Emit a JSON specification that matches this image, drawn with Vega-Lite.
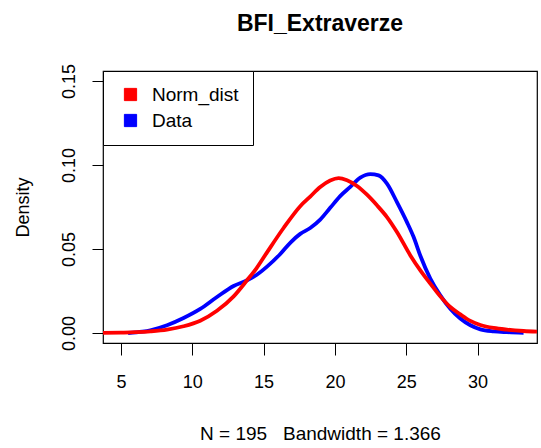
{
  "$schema": "https://vega.github.io/schema/vega-lite/v6.json",
  "width": 434,
  "height": 272,
  "autosize": {"type": "none"},
  "padding": {"left": 103, "top": 71, "right": 4, "bottom": 105},
  "background": "white",
  "title": {
    "text": "BFI_Extraverze",
    "anchor": "middle",
    "frame": "group",
    "font": "Liberation Sans",
    "fontSize": 23,
    "fontWeight": "bold",
    "color": "black",
    "baseline": "alphabetic",
    "offset": 9
  },
  "config": {
    "view": {"stroke": "black", "strokeWidth": 1.2},
    "axis": {
      "labelFont": "Liberation Sans",
      "titleFont": "Liberation Sans",
      "labelColor": "black",
      "titleColor": "black",
      "tickColor": "black",
      "grid": false,
      "domain": false,
      "titleFontWeight": "normal"
    }
  },
  "datasets": {
    "curves": [
      {"x": 5.5, "density": 0.0000, "series": "Data"},
      {"x": 6.5, "density": 0.0008, "series": "Data"},
      {"x": 7.06, "density": 0.0016, "series": "Data"},
      {"x": 8.23, "density": 0.0046, "series": "Data"},
      {"x": 9.39, "density": 0.0089, "series": "Data"},
      {"x": 10.56, "density": 0.0143, "series": "Data"},
      {"x": 11.73, "density": 0.0214, "series": "Data"},
      {"x": 12.9, "density": 0.0280, "series": "Data"},
      {"x": 13.84, "density": 0.0314, "series": "Data"},
      {"x": 14.5, "density": 0.0345, "series": "Data"},
      {"x": 15.24, "density": 0.0395, "series": "Data"},
      {"x": 16.17, "density": 0.0470, "series": "Data"},
      {"x": 16.9, "density": 0.0540, "series": "Data"},
      {"x": 17.57, "density": 0.0590, "series": "Data"},
      {"x": 18.27, "density": 0.0625, "series": "Data"},
      {"x": 18.97, "density": 0.0675, "series": "Data"},
      {"x": 19.67, "density": 0.0745, "series": "Data"},
      {"x": 20.37, "density": 0.0815, "series": "Data"},
      {"x": 21.08, "density": 0.0870, "series": "Data"},
      {"x": 21.78, "density": 0.0925, "series": "Data"},
      {"x": 22.48, "density": 0.0946, "series": "Data"},
      {"x": 23.06, "density": 0.0938, "series": "Data"},
      {"x": 23.65, "density": 0.0889, "series": "Data"},
      {"x": 24.35, "density": 0.0779, "series": "Data"},
      {"x": 25.05, "density": 0.0660, "series": "Data"},
      {"x": 25.52, "density": 0.0571, "series": "Data"},
      {"x": 25.99, "density": 0.0460, "series": "Data"},
      {"x": 26.69, "density": 0.0324, "series": "Data"},
      {"x": 27.39, "density": 0.0224, "series": "Data"},
      {"x": 28.09, "density": 0.0145, "series": "Data"},
      {"x": 28.79, "density": 0.0086, "series": "Data"},
      {"x": 29.5, "density": 0.0046, "series": "Data"},
      {"x": 30.2, "density": 0.0022, "series": "Data"},
      {"x": 31.13, "density": 0.0010, "series": "Data"},
      {"x": 32.06, "density": 0.0005, "series": "Data"},
      {"x": 33.23, "density": 0.0001, "series": "Data"},
      {"x": 3.74, "density": 0.0001, "series": "Norm_dist"},
      {"x": 5.0, "density": 0.0002, "series": "Norm_dist"},
      {"x": 6.0, "density": 0.0005, "series": "Norm_dist"},
      {"x": 7.06, "density": 0.0010, "series": "Norm_dist"},
      {"x": 8.23, "density": 0.0020, "series": "Norm_dist"},
      {"x": 9.39, "density": 0.0040, "series": "Norm_dist"},
      {"x": 10.56, "density": 0.0073, "series": "Norm_dist"},
      {"x": 11.73, "density": 0.0132, "series": "Norm_dist"},
      {"x": 12.9, "density": 0.0218, "series": "Norm_dist"},
      {"x": 13.84, "density": 0.0314, "series": "Norm_dist"},
      {"x": 14.5, "density": 0.0385, "series": "Norm_dist"},
      {"x": 15.24, "density": 0.0480, "series": "Norm_dist"},
      {"x": 16.4, "density": 0.0625, "series": "Norm_dist"},
      {"x": 17.57, "density": 0.0755, "series": "Norm_dist"},
      {"x": 18.27, "density": 0.0812, "series": "Norm_dist"},
      {"x": 18.97, "density": 0.0869, "series": "Norm_dist"},
      {"x": 19.67, "density": 0.0908, "series": "Norm_dist"},
      {"x": 20.26, "density": 0.0922, "series": "Norm_dist"},
      {"x": 20.85, "density": 0.0909, "series": "Norm_dist"},
      {"x": 21.55, "density": 0.0875, "series": "Norm_dist"},
      {"x": 22.25, "density": 0.0823, "series": "Norm_dist"},
      {"x": 22.95, "density": 0.0760, "series": "Norm_dist"},
      {"x": 23.65, "density": 0.0690, "series": "Norm_dist"},
      {"x": 24.35, "density": 0.0601, "series": "Norm_dist"},
      {"x": 25.29, "density": 0.0462, "series": "Norm_dist"},
      {"x": 25.99, "density": 0.0373, "series": "Norm_dist"},
      {"x": 26.69, "density": 0.0294, "series": "Norm_dist"},
      {"x": 27.39, "density": 0.0218, "series": "Norm_dist"},
      {"x": 28.09, "density": 0.0155, "series": "Norm_dist"},
      {"x": 28.79, "density": 0.0111, "series": "Norm_dist"},
      {"x": 29.5, "density": 0.0072, "series": "Norm_dist"},
      {"x": 30.2, "density": 0.0048, "series": "Norm_dist"},
      {"x": 31.13, "density": 0.0030, "series": "Norm_dist"},
      {"x": 32.06, "density": 0.0020, "series": "Norm_dist"},
      {"x": 33.23, "density": 0.0012, "series": "Norm_dist"},
      {"x": 34.17, "density": 0.0008, "series": "Norm_dist"}
    ]
  },
  "layer": [
    {
      "mark": {"type": "rule", "color": "#BEBEBE", "strokeWidth": 1},
      "encoding": {"y": {"datum": 0, "type": "quantitative"}}
    },
    {
      "data": {"name": "curves"},
      "mark": {"type": "line", "strokeWidth": 3.8, "interpolate": "monotone", "clip": true},
      "encoding": {
        "x": {
          "field": "x",
          "type": "quantitative",
          "scale": {"domain": [3.74, 34.17], "nice": false, "zero": false},
          "axis": {
            "values": [5, 10, 15, 20, 25, 30],
            "format": "d",
            "labelFontSize": 18,
            "tickSize": 12,
            "labelBaseline": "middle",
            "labelPadding": 27,
            "title": "N = 195\u00a0\u00a0 Bandwidth = 1.366",
            "titleFontSize": 19,
            "titleBaseline": "alphabetic",
            "titleY": 96,
            "titleX": 217,
            "titleAlign": "center"
          }
        },
        "y": {
          "field": "density",
          "type": "quantitative",
          "scale": {"domain": [-0.00595, 0.15595], "nice": false, "zero": false},
          "axis": {
            "values": [0, 0.05, 0.1, 0.15],
            "format": ".2f",
            "labelFontSize": 18,
            "tickSize": 11,
            "labelAngle": 270,
            "labelAlign": "center",
            "labelBaseline": "middle",
            "labelPadding": 23,
            "title": "Density",
            "titleFontSize": 18,
            "titleAngle": 270,
            "titleAlign": "center",
            "titleBaseline": "middle",
            "titleX": -80,
            "titleY": 136
          }
        },
        "color": {
          "field": "series",
          "type": "nominal",
          "sort": ["Norm_dist", "Data"],
          "scale": {"domain": ["Norm_dist", "Data"], "range": ["#FF0000", "#0000FF"]},
          "legend": {
            "title": null,
            "orient": "none",
            "legendX": 0,
            "legendY": 0,
            "symbolType": "square",
            "symbolSize": 150,
            "symbolStrokeWidth": 1,
            "symbolOffset": 4,
            "labelFont": "Liberation Sans",
            "labelFontSize": 19,
            "labelColor": "black",
            "labelOffset": 12,
            "rowPadding": 6,
            "padding": 14,
            "strokeColor": "black",
            "fillColor": "white",
            "cornerRadius": 0,
            "encode": {
              "symbols": {
                "update": {
                  "fill": {"scale": "color", "field": "value"},
                  "stroke": {"value": "black"},
                  "strokeWidth": {"value": 1},
                  "opacity": {"value": 1},
                  "fillOpacity": {"value": 1}
                }
              }
            }
          }
        }
      }
    }
  ]
}
